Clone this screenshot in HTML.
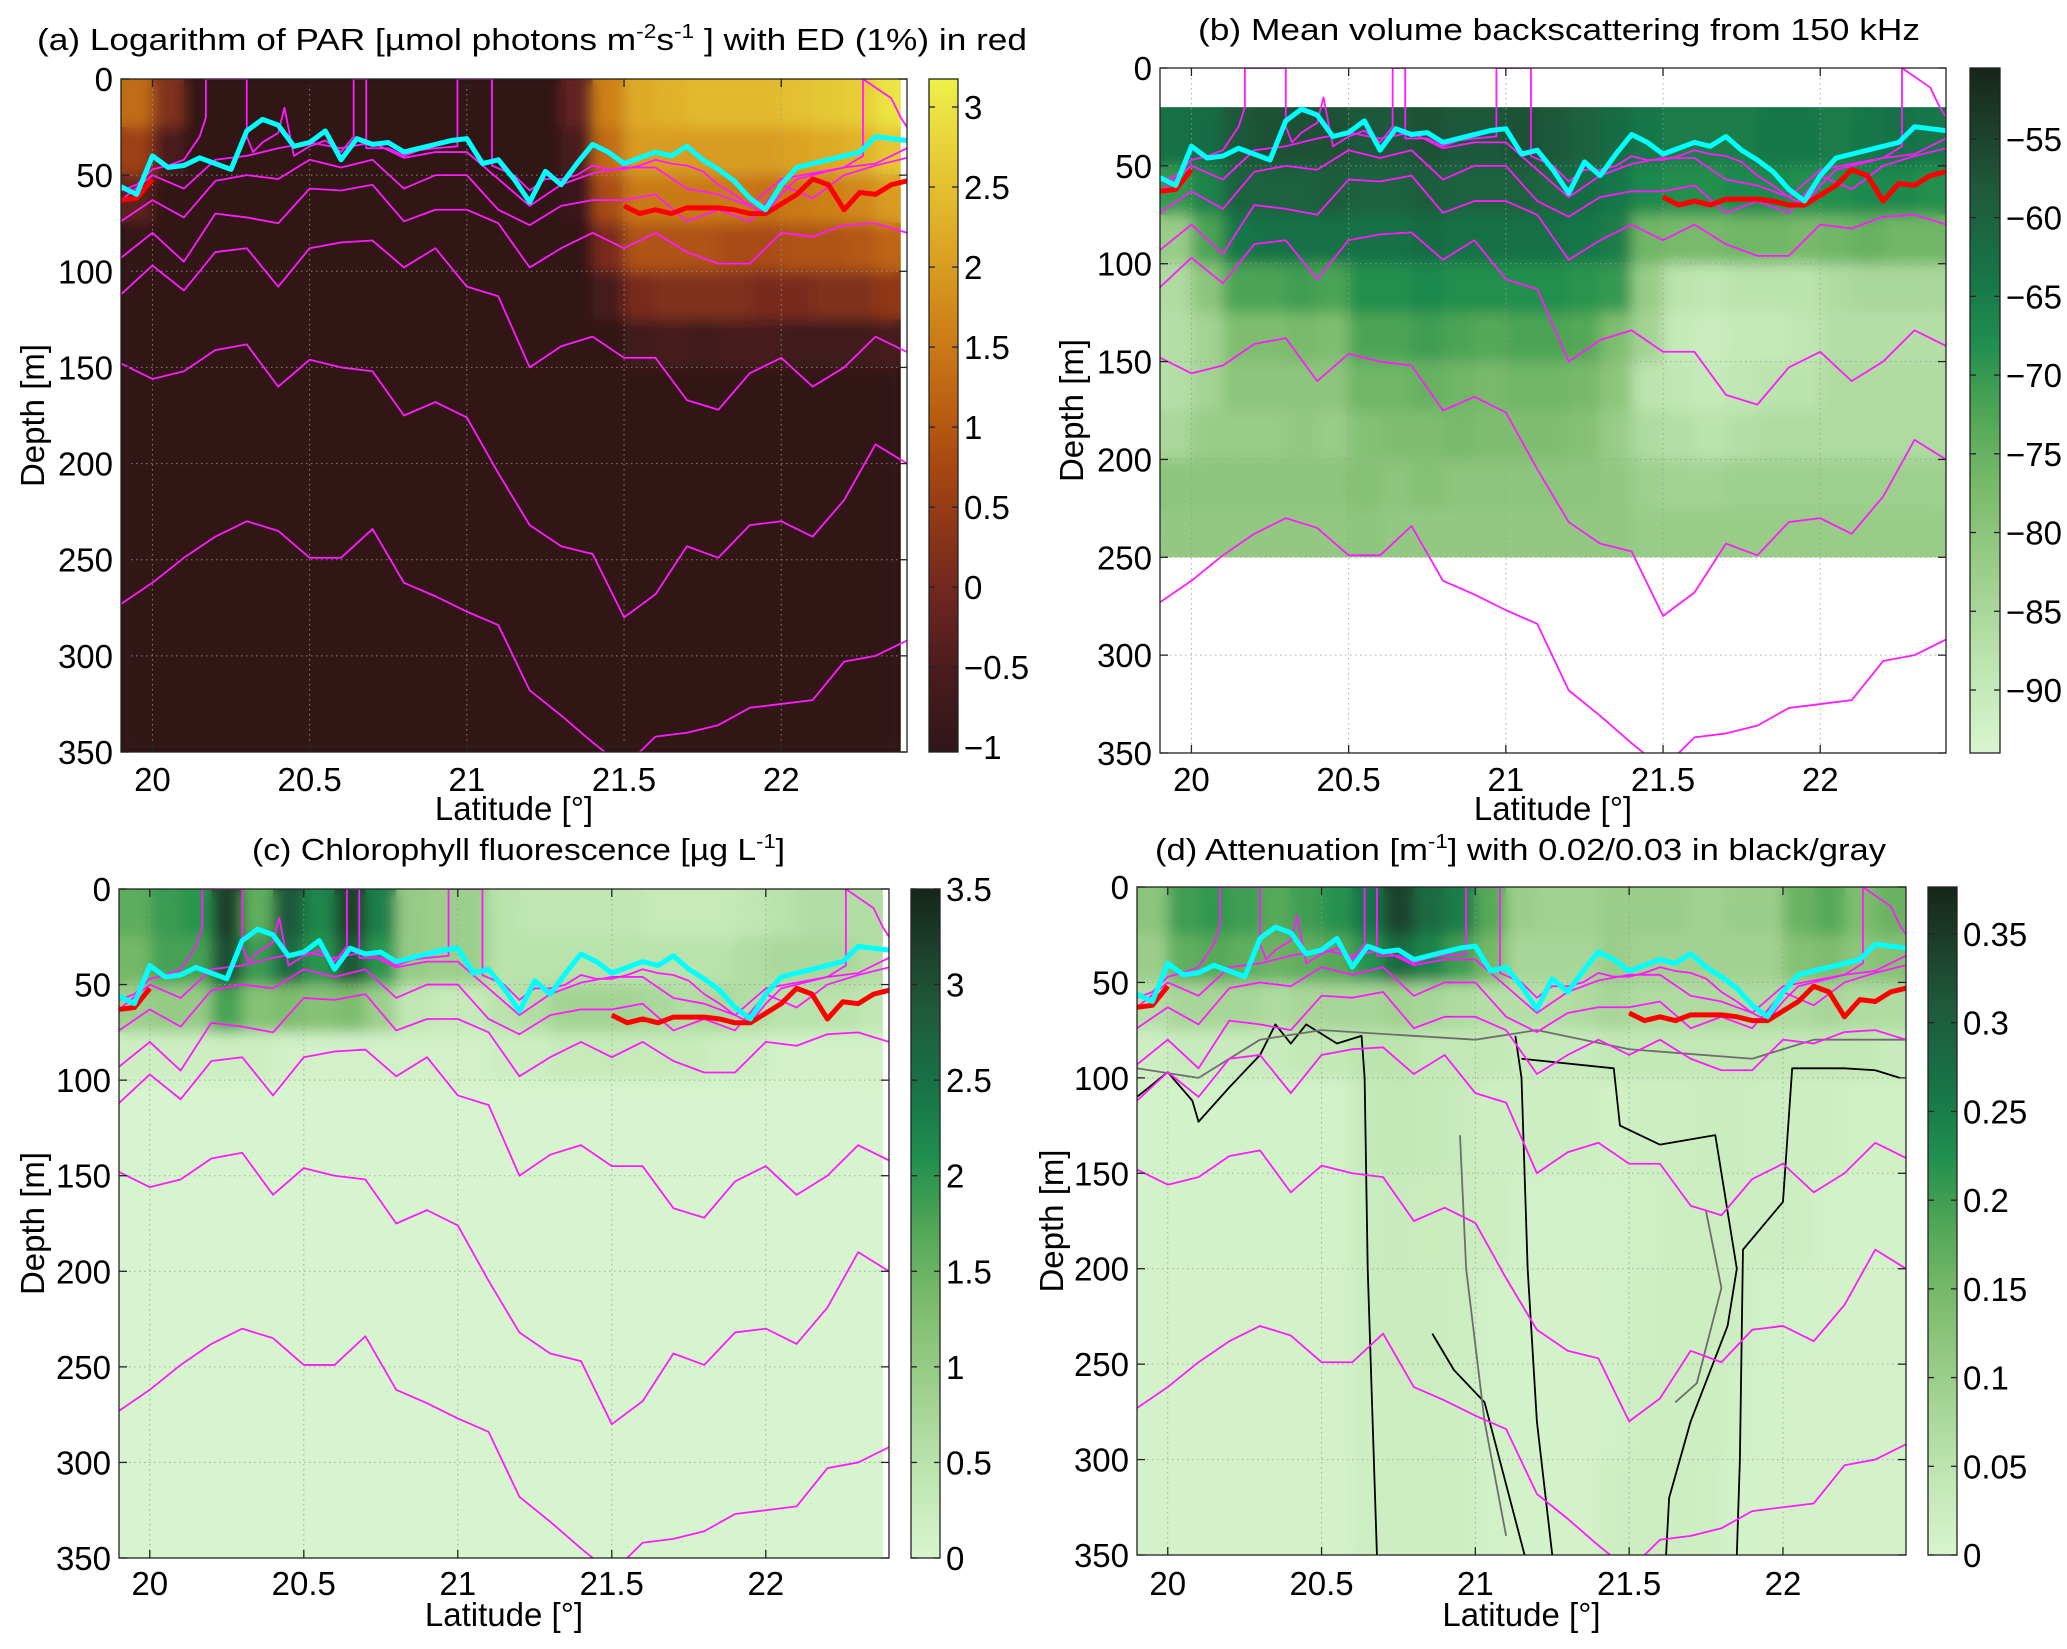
<!DOCTYPE html>
<html><head><meta charset="utf-8"><style>
html,body{margin:0;padding:0;background:#fff;}
svg{display:block;font-family:"Liberation Sans",Arial,sans-serif;}
</style></head><body>
<svg id="fig" width="2067" height="1649" viewBox="0 0 2067 1649" xmlns="http://www.w3.org/2000/svg">
<rect x="0" y="0" width="2067" height="1649" fill="#fff"/>
<defs id="defs"></defs>
</svg>
<script>
// ---------- data ----------
const latFine = [19.90,19.95,20.00,20.05,20.10,20.15,20.20,20.25,20.30,20.35,20.40,20.45,20.50,20.55,20.60,20.65,20.70,20.75,20.80,20.85,20.90,20.95,21.00,21.05,21.10,21.15,21.20,21.25,21.30,21.35,21.40,21.45,21.50,21.55,21.60,21.65,21.70,21.75,21.80,21.85,21.90,21.95,22.00,22.05,22.10,22.15,22.20,22.25,22.30,22.35,22.40];
const latCoarse = [19.9,20.0,20.1,20.2,20.3,20.4,20.5,20.6,20.7,20.8,20.9,21.0,21.1,21.2,21.3,21.4,21.5,21.6,21.7,21.8,21.9,22.0,22.1,22.2,22.3,22.4];
const mixedLayerDepth = [56,60,40,46,45,41,44,47,27,21,24,35,33,27,42,31,34,33,38,36,34,32,31,44,42,52,64,48,55,44,34,38,44,41,38,40,35,42,47,53,62,68,55,46,44,42,40,38,30,31,32];
const euphoticDepth = [63,62,52,null,null,null,null,null,null,null,null,null,null,null,null,null,null,null,null,null,null,null,null,null,null,null,null,null,null,null,null,null,66,70,68,70,67,67,67,68,70,70,65,60,52,55,68,59,60,55,53];
const iso1Lat = [19.9,19.95,20.0,20.05,20.1,20.15,20.17,20.17,20.3,20.3,20.32,20.35,20.4,20.42,20.45,20.5,20.55,20.6,20.64,20.64,20.68,20.68,20.75,20.8,20.85,20.9,20.97,20.97,21.08,21.08,21.15,21.2,21.25,21.3,21.35,21.4,21.45,21.5,21.55,21.6,21.65,21.7,21.75,21.8,21.85,21.9,21.95,22.0,22.05,22.1,22.15,22.2,22.26,22.26,22.35,22.38,22.4];
const iso1Depth = [58,55,47,45,42,30,20,0,0,30,38,33,28,15,40,35,32,38,30,0,0,36,36,40,37,36,35,0,0,45,50,58,52,52,50,45,47,47,45,42,44,45,48,55,60,66,70,60,52,50,48,46,40,0,10,20,25];
const iso2 = [63,50,57,42,40,36,33,36,33,41,38,38,52,66,55,49,46,46,57,60,66,52,49,46,44,36];
const iso3 = [74,63,72,53,50,52,42,46,42,57,50,50,68,76,66,63,63,60,74,68,74,55,62,50,45,41];
const iso4 = [93,80,95,70,72,75,57,58,55,74,68,68,75,98,88,80,88,80,90,96,96,80,82,76,75,80];
const iso5 = [112,97,110,90,88,108,88,85,84,98,88,108,113,150,139,134,145,145,167,172,153,145,160,150,134,142];
const iso6 = [148,156,152,141,138,160,146,150,152,175,168,176,205,232,243,247,280,268,243,249,232,230,238,219,190,200];
const iso7 = [273,262,249,238,230,235,249,249,234,262,269,277,284,318,331,345,358,342,340,336,327,325,323,303,300,292];
const cellLatEdges = [19.9,20.0,20.1,20.2,20.3,20.4,20.5,20.6,20.7,20.8,20.9,21.0,21.1,21.2,21.3,21.4,21.5,21.6,21.7,21.8,21.9,22.0,22.1,22.2,22.3,22.4];

const parDepthEdges = [0,25,50,75,100,125,150,350];
const parValues = [
 [1.3,0.2,-1,-1,-1,-1,-1,-1,-1,-1,-1,-1,-1,-1,-0.2,1.6,2.2,2.3,2.4,2.4,2.4,2.5,2.6,2.7,3.0],
 [0.6,-0.5,-1,-1,-1,-1,-1,-1,-1,-1,-1,-1,-1,-1,-0.5,1.3,2.0,2.0,2.0,2.0,2.0,2.1,2.2,2.3,2.6],
 [-0.3,-1,-1,-1,-1,-1,-1,-1,-1,-1,-1,-1,-1,-1,-0.8,0.8,1.5,1.5,1.5,1.5,1.4,1.5,1.6,1.7,2.0],
 [-1,-1,-1,-1,-1,-1,-1,-1,-1,-1,-1,-1,-1,-1,-1,0.1,0.9,0.9,0.9,0.8,0.8,0.9,0.9,1.0,1.2],
 [-1,-1,-1,-1,-1,-1,-1,-1,-1,-1,-1,-1,-1,-1,-1,-0.6,0.1,0.2,0.2,0.2,0.1,0.1,0.2,0.2,0.4],
 [-1,-1,-1,-1,-1,-1,-1,-1,-1,-1,-1,-1,-1,-1,-1,-1,-0.7,-0.6,-0.7,-0.6,-0.6,-0.7,-0.7,-0.7,-0.6],
 [-1,-1,-1,-1,-1,-1,-1,-1,-1,-1,-1,-1,-1,-1,-1,-1,-1,-1,-1,-1,-1,-1,-1,-1,-1]
];
const svDepthEdges = [20,50,75,100,125,150,175,200,225,250];
const svValues = [
 [-63,-62,-58,-57,-57,-57,-58,-58,-57,-58,-58,-57,-58,-60,-62,-64,-65,-65,-65,-64,-64,-65,-64,-63,-64],
 [-70,-66,-60,-60,-60,-59,-60,-60,-59,-60,-60,-60,-61,-62,-64,-67,-68,-68,-67,-67,-68,-68,-67,-67,-68],
 [-82,-72,-64,-63,-63,-63,-63,-63,-62,-63,-63,-63,-63,-64,-65,-76,-77,-77,-76,-76,-77,-76,-75,-76,-76],
 [-86,-80,-72,-72,-71,-72,-68,-68,-67,-68,-68,-68,-68,-69,-70,-82,-88,-89,-88,-88,-88,-86,-85,-85,-85],
 [-87,-84,-78,-78,-77,-78,-72,-72,-71,-72,-73,-72,-72,-73,-78,-84,-90,-91,-90,-90,-89,-87,-87,-87,-87],
 [-87,-84,-80,-80,-80,-80,-76,-76,-75,-76,-77,-76,-76,-77,-80,-88,-89,-90,-89,-88,-88,-86,-86,-86,-86],
 [-85,-82,-82,-82,-81,-82,-79,-78,-78,-77,-78,-78,-78,-79,-82,-86,-87,-88,-87,-86,-86,-86,-86,-86,-86],
 [-80,-80,-80,-80,-80,-80,-79,-80,-79,-80,-80,-80,-80,-80,-81,-83,-84,-84,-83,-83,-83,-83,-83,-83,-83],
 [-81,-81,-81,-81,-81,-81,-80,-81,-81,-81,-81,-81,-81,-81,-81,-82,-82,-82,-82,-82,-82,-82,-82,-82,-82]
];
const chlDepthEdges = [0,25,50,75,100,350];
const chlValues = [
 [1.6,1.9,2.0,3.2,1.6,2.9,2.2,3.2,2.3,1.0,0.9,0.9,0.5,0.4,0.4,0.4,0.4,0.3,0.3,0.3,0.4,0.5,0.6,0.6,0.6],
 [1.4,1.8,1.8,3.0,1.9,2.6,2.0,2.9,2.0,1.0,0.9,0.9,0.5,0.5,0.5,0.5,0.5,0.5,0.5,0.5,0.6,0.7,0.7,0.7,0.6],
 [0.9,1.0,1.0,1.8,1.2,1.3,1.2,1.3,0.9,0.4,0.3,0.3,0.5,0.6,0.8,0.8,0.8,0.7,0.6,0.7,0.6,0.5,0.5,0.5,0.4],
 [0.2,0.2,0.2,0.2,0.2,0.1,0.1,0.1,0.1,0.1,0.1,0.1,0.2,0.2,0.3,0.3,0.3,0.3,0.3,0.2,0.2,0.1,0.1,0.1,0.1],
 [0.03,0.03,0.03,0.03,0.03,0.03,0.03,0.03,0.03,0.03,0.03,0.03,0.03,0.03,0.03,0.03,0.03,0.03,0.03,0.03,0.03,0.03,0.03,0.03,0.03]
];
const attDepthEdges = [0,25,50,75,100,150,200,250,300,350];
const attValues = [
 [0.12,0.2,0.21,0.2,0.18,0.2,0.22,0.26,0.34,0.28,0.25,0.18,0.1,0.09,0.09,0.1,0.1,0.1,0.09,0.1,0.1,0.16,0.18,0.14,0.16],
 [0.1,0.17,0.18,0.17,0.16,0.17,0.18,0.22,0.28,0.24,0.2,0.15,0.08,0.08,0.08,0.1,0.09,0.09,0.09,0.09,0.09,0.13,0.14,0.12,0.13],
 [0.06,0.08,0.08,0.08,0.07,0.08,0.08,0.08,0.09,0.08,0.07,0.06,0.06,0.06,0.07,0.08,0.07,0.07,0.07,0.07,0.07,0.07,0.08,0.07,0.07],
 [0.02,0.03,0.03,0.03,0.03,0.04,0.04,0.05,0.05,0.04,0.04,0.04,0.03,0.03,0.03,0.04,0.04,0.04,0.04,0.04,0.04,0.04,0.04,0.04,0.03],
 [0.01,0.01,0.01,0.01,0.01,0.01,0.01,0.035,0.04,0.035,0.03,0.02,0.02,0.02,0.02,0.015,0.02,0.02,0.025,0.025,0.02,0.02,0.02,0.015,0.015],
 [0.01,0.01,0.01,0.01,0.01,0.01,0.01,0.028,0.03,0.028,0.026,0.024,0.012,0.01,0.01,0.012,0.015,0.022,0.022,0.022,0.02,0.02,0.012,0.01,0.01],
 [0.008,0.008,0.008,0.008,0.008,0.008,0.008,0.025,0.026,0.025,0.024,0.012,0.01,0.008,0.008,0.01,0.018,0.022,0.022,0.02,0.012,0.01,0.008,0.008,0.008],
 [0.008,0.008,0.008,0.008,0.008,0.008,0.008,0.022,0.024,0.024,0.02,0.012,0.01,0.008,0.008,0.012,0.022,0.022,0.022,0.014,0.01,0.008,0.008,0.008,0.008],
 [0.008,0.008,0.008,0.008,0.008,0.008,0.008,0.02,0.022,0.022,0.02,0.012,0.008,0.008,0.008,0.02,0.022,0.022,0.018,0.01,0.008,0.008,0.008,0.008,0.008]
];
const contourBlackA = [[19.9,110],[20.0,97],[20.08,112],[20.1,123],[20.2,105],[20.3,88],[20.35,72],[20.4,82],[20.45,72],[20.55,82],[20.63,78],[20.64,100],[20.65,200],[20.67,300],[20.68,350]];
const contourBlackB = [[21.13,78],[21.15,100],[21.17,200],[21.2,280],[21.25,350]];
const contourBlackC = [[20.86,234],[20.93,253],[21.03,270],[21.16,350]];
const contourBlackD = [[21.15,90],[21.45,95],[21.47,125],[21.6,135],[21.78,130],[21.85,200],[21.82,230],[21.7,280],[21.63,320],[21.62,350]];
const contourBlackE = [[21.85,350],[21.86,300],[21.87,190],[22.0,165],[22.03,95],[22.2,95],[22.3,96],[22.38,100]];
const contourGrayA = [[19.9,95],[20.1,100],[20.3,80],[20.5,75],[21.0,80],[21.2,75],[21.5,85],[21.9,90],[22.1,80],[22.4,80]];
const contourGrayB = [[20.95,130],[20.97,200],[21.03,280],[21.1,340]];
const contourGrayC = [[21.75,170],[21.8,210],[21.72,260],[21.65,270]];

const latTicks = [20,20.5,21,21.5,22];
const latTickLabels = ["20","20.5","21","21.5","22"];
const depthTicks = [0,50,100,150,200,250,300,350];
const parCbTicks = [-1,-0.5,0,0.5,1,1.5,2,2.5,3];
const parCbLabels = ["\u22121","\u22120.5","0","0.5","1","1.5","2","2.5","3"];
const svCbTicks = [-90,-85,-80,-75,-70,-65,-60,-55];
const svCbLabels = ["\u221290","\u221285","\u221280","\u221275","\u221270","\u221265","\u221260","\u221255"];
const chlCbTicks = [0,0.5,1,1.5,2,2.5,3,3.5];
const chlCbLabels = ["0","0.5","1","1.5","2","2.5","3","3.5"];
const attCbTicks = [0,0.05,0.1,0.15,0.2,0.25,0.3,0.35];
const attCbLabels = ["0","0.05","0.1","0.15","0.2","0.25","0.3","0.35"];

// ---------- styling ----------
const greens = [[0,'#d8f5cf'],[0.12,'#bfe6b2'],[0.25,'#9fd08e'],[0.38,'#7cbc6c'],[0.5,'#4ea555'],[0.6,'#1f8e4e'],[0.7,'#177447'],[0.82,'#1f5a3c'],[0.92,'#1c3d2a'],[1,'#16261a']];
const parMap = [[0,'#2f1619'],[0.12,'#4a1c1e'],[0.22,'#6b2520'],[0.32,'#8a3418'],[0.42,'#a64712'],[0.52,'#bc6212'],[0.62,'#cc7e17'],[0.72,'#d99c20'],[0.84,'#e4c030'],[1,'#eef04a']];
const NS='http://www.w3.org/2000/svg';
const svg=document.getElementById('fig');
const defs=document.getElementById('defs');
function el(tag,attrs,parent){const e=document.createElementNS(NS,tag);for(const k in attrs)e.setAttribute(k,attrs[k]);(parent||svg).appendChild(e);return e;}
function hex(c){return [parseInt(c.substr(1,2),16),parseInt(c.substr(3,2),16),parseInt(c.substr(5,2),16)];}
function cmap(stops,f){f=Math.max(0,Math.min(1,f));for(let i=1;i<stops.length;i++){if(f<=stops[i][0]){const a=stops[i-1],b=stops[i];const t=(f-a[0])/(b[0]-a[0]);const ca=hex(a[1]),cb=hex(b[1]);return 'rgb('+ca.map((v,j)=>Math.round(v+(cb[j]-v)*t)).join(',')+')';}}return stops[stops.length-1][1];}

const panels=[
 {key:'a',x0:121,x1:907,y0:79,y1:752,cb:[929,958],vmin:-1.03,vmax:3.175,map:parMap,depthEdges:parDepthEdges,vals:parValues,cbTicks:parCbTicks,cbLabels:parCbLabels,latR:22.38,
  title:['(a) Logarithm of PAR [\u00b5mol photons m','-2','s','-1',' ] with ED (1%) in red'],tx:[37,1027],ty:50,ylx:33,xly:820,xty:791,contours:false},
 {key:'b',x0:1160,x1:1946,y0:68,y1:753,cb:[1970,2000],vmin:-94,vmax:-50.5,map:greens,depthEdges:svDepthEdges,vals:svValues,cbTicks:svCbTicks,cbLabels:svCbLabels,latR:22.4,
  title:['(b) Mean volume backscattering from 150 kHz'],tx:[1198,1920],ty:40,ylx:1072,xly:820,xty:791,contours:false},
 {key:'c',x0:119,x1:889,y0:889,y1:1558,cb:[911,940],vmin:0,vmax:3.5,map:greens,depthEdges:chlDepthEdges,vals:chlValues,cbTicks:chlCbTicks,cbLabels:chlCbLabels,latR:22.38,
  title:['(c) Chlorophyll fluorescence [\u00b5g L','-1',']'],tx:[252,785],ty:860,ylx:33,xly:1626,xty:1595,contours:false},
 {key:'d',x0:1137,x1:1906,y0:887,y1:1555,cb:[1928,1957],vmin:0,vmax:0.3765,map:greens,depthEdges:attDepthEdges,vals:attValues,cbTicks:attCbTicks,cbLabels:attCbLabels,latR:22.4,
  title:['(d) Attenuation [m','-1','] with 0.02/0.03 in black/gray'],tx:[1155,1886],ty:860,ylx:1052,xly:1626,xty:1595,contours:true}
];

panels.forEach(p=>{
 const X=lat=>p.x0+(lat-19.9)/(22.4-19.9)*(p.x1-p.x0);
 const Y=d=>p.y0+d/350*(p.y1-p.y0);
 const g=el('g',{});
 
 
 const cp=el('clipPath',{id:'clip-'+p.key},defs);
 el('rect',{x:p.x0,y:p.y0,width:p.x1-p.x0,height:p.y1-p.y0},cp);
 const dTop=p.depthEdges[0],dBot=p.depthEdges[p.depthEdges.length-1];
 const fx=X(19.9),fy=Y(dTop),fw=X(p.latR)-X(19.9),fh=Y(dBot)-Y(dTop);
 const cp2=el('clipPath',{id:'dclip-'+p.key},defs);
 el('rect',{x:fx,y:fy,width:fw,height:fh},cp2);
 const flt=el('filter',{id:'blur-'+p.key,filterUnits:'userSpaceOnUse',x:fx-20,y:fy-20,width:fw+40,height:fh+40},defs);
 el('feGaussianBlur',{stdDeviation:'7'},flt);
 const hw=el('g',{'clip-path':'url(#dclip-'+p.key+')'},g);
 // solid underlayer + blurred overlay
 const base=el('g',{},hw);
 
 
 const heat=el('g',{filter:'url(#blur-'+p.key+')'},hw);
 
 
 p.vals.forEach((row,ri)=>{
  row.forEach((v,ci)=>{
   const la=cellLatEdges[ci],lb=Math.min(cellLatEdges[ci+1],p.latR);
   const col=cmap(p.map,(v-p.vmin)/(p.vmax-p.vmin));
   const at={x:X(la),y:Y(p.depthEdges[ri]),width:X(lb)-X(la)+0.6,height:Y(p.depthEdges[ri+1])-Y(p.depthEdges[ri])+0.6,fill:col};
   const r0=el('rect',at,base);
   
   
   const r=el('rect',at,heat);
   
   
  });
 });
 const grid=el('g',{stroke:'#9a9a9a','stroke-width':'1','stroke-dasharray':'1.5,3.5',opacity:'0.8'},g);
 
 
 latTicks.forEach(t=>el('line',{x1:X(t),x2:X(t),y1:p.y0,y2:p.y1},grid));
 depthTicks.forEach(t=>el('line',{x1:p.x0,x2:p.x1,y1:Y(t),y2:Y(t)},grid));
 const lines=el('g',{'clip-path':'url(#clip-'+p.key+')',fill:'none','stroke-linejoin':'round'},g);
 if(p.contours){
  [[contourBlackA,'#000'],[contourBlackB,'#000'],[contourBlackC,'#000'],[contourBlackD,'#000'],[contourBlackE,'#000'],[contourGrayA,'#6e6e6e'],[contourGrayB,'#6e6e6e'],[contourGrayC,'#6e6e6e']].forEach(([arr,col])=>{
   const pl=el('polyline',{points:arr.map(q=>X(q[0])+','+Y(q[1])).join(' '),stroke:col,'stroke-width':'1.8'},lines);
   
   
  });
 }
 [iso2,iso3,iso4,iso5,iso6,iso7].forEach((arr,i)=>{
  const pl=el('polyline',{points:arr.map((d,j)=>X(latCoarse[j])+','+Y(d)).join(' '),stroke:'#ff1aff','stroke-width':'1.8'},lines);
  
  
 });
 const pl1=el('polyline',{points:iso1Depth.map((d,j)=>X(iso1Lat[j])+','+Y(d)).join(' '),stroke:'#ff1aff','stroke-width':'1.8'},lines);
 
 
 let seg=[];const segs=[];
 euphoticDepth.forEach((d,j)=>{if(d===null){if(seg.length)segs.push(seg);seg=[];}else seg.push(X(latFine[j])+','+Y(d));});
 if(seg.length)segs.push(seg);
 segs.forEach(s=>{const r=el('polyline',{points:s.join(' '),stroke:'#ff0000','stroke-width':'5'},lines);
  
  });
 const cy=el('polyline',{points:mixedLayerDepth.map((d,j)=>X(latFine[j])+','+Y(d)).join(' '),stroke:'#00ffff','stroke-width':'5'},lines);
 
 
 const ax=el('g',{stroke:'#222','stroke-width':'1.3',fill:'none'},g);
 
 
 el('rect',{x:p.x0,y:p.y0,width:p.x1-p.x0,height:p.y1-p.y0},ax);
 latTicks.forEach(t=>{el('line',{x1:X(t),x2:X(t),y1:p.y1,y2:p.y1-8},ax);el('line',{x1:X(t),x2:X(t),y1:p.y0,y2:p.y0+8},ax);});
 depthTicks.forEach(t=>{el('line',{x1:p.x0,x2:p.x0+8,y1:Y(t),y2:Y(t)},ax);el('line',{x1:p.x1,x2:p.x1-8,y1:Y(t),y2:Y(t)},ax);});
 const tg=el('g',{'font-size':'33',fill:'#000'},g);
 latTicks.forEach((t,i)=>{const tx=el('text',{x:X(t),y:p.xty,'text-anchor':'middle'},tg);tx.textContent=latTickLabels[i];
  });
 depthTicks.forEach(t=>{const tx=el('text',{x:p.x0-8,y:Y(t)+12,'text-anchor':'end'},tg);tx.textContent=String(t);
  });
 const xl=el('text',{x:(p.x0+p.x1)/2,y:p.xly,'text-anchor':'middle','font-size':'33'},g);
 xl.textContent='Latitude [\u00b0]';
 
 const ycy=(p.y0+p.y1)/2;
 const yl=el('text',{x:p.ylx,y:ycy,'text-anchor':'middle','font-size':'33',transform:'rotate(-90 '+p.ylx+' '+ycy+')',dy:'11'},g);
 yl.textContent='Depth [m]';
 
 const tt=el('text',{x:p.tx[0],y:p.ty,'font-size':'31',textLength:p.tx[1]-p.tx[0],lengthAdjust:'spacingAndGlyphs'},g);
 
 p.title.forEach((s,i)=>{const ts=el('tspan',{},tt);ts.textContent=s;
  if(s==='-1'||s==='-2'){ts.setAttribute('font-size','20');ts.setAttribute('dy','-12');}
  else if(i>0&&(p.title[i-1]==='-1'||p.title[i-1]==='-2')){ts.setAttribute('dy','12');}
 });
 const gid='grad-'+p.key;
 const lg=el('linearGradient',{id:gid,x1:'0',y1:'1',x2:'0',y2:'0'},defs);
 p.map.forEach(s=>el('stop',{offset:s[0],'stop-color':s[1]},lg));
 const cbg=el('g',{},g);
 
 
 el('rect',{x:p.cb[0],y:p.y0,width:p.cb[1]-p.cb[0],height:p.y1-p.y0,fill:'url(#'+gid+')',stroke:'#222','stroke-width':'1.3'},cbg);
 const CY=v=>p.y1-(v-p.vmin)/(p.vmax-p.vmin)*(p.y1-p.y0);
 p.cbTicks.forEach((t,i)=>{
  el('line',{x1:p.cb[0],x2:p.cb[0]+6,y1:CY(t),y2:CY(t),stroke:'#222','stroke-width':'1.3'},cbg);
  el('line',{x1:p.cb[1],x2:p.cb[1]-6,y1:CY(t),y2:CY(t),stroke:'#222','stroke-width':'1.3'},cbg);
  const tx=el('text',{x:p.cb[1]+6,y:CY(t)+12,'font-size':'33'},cbg);tx.textContent=p.cbLabels[i];
  
 });
});
</script>
</body></html>
